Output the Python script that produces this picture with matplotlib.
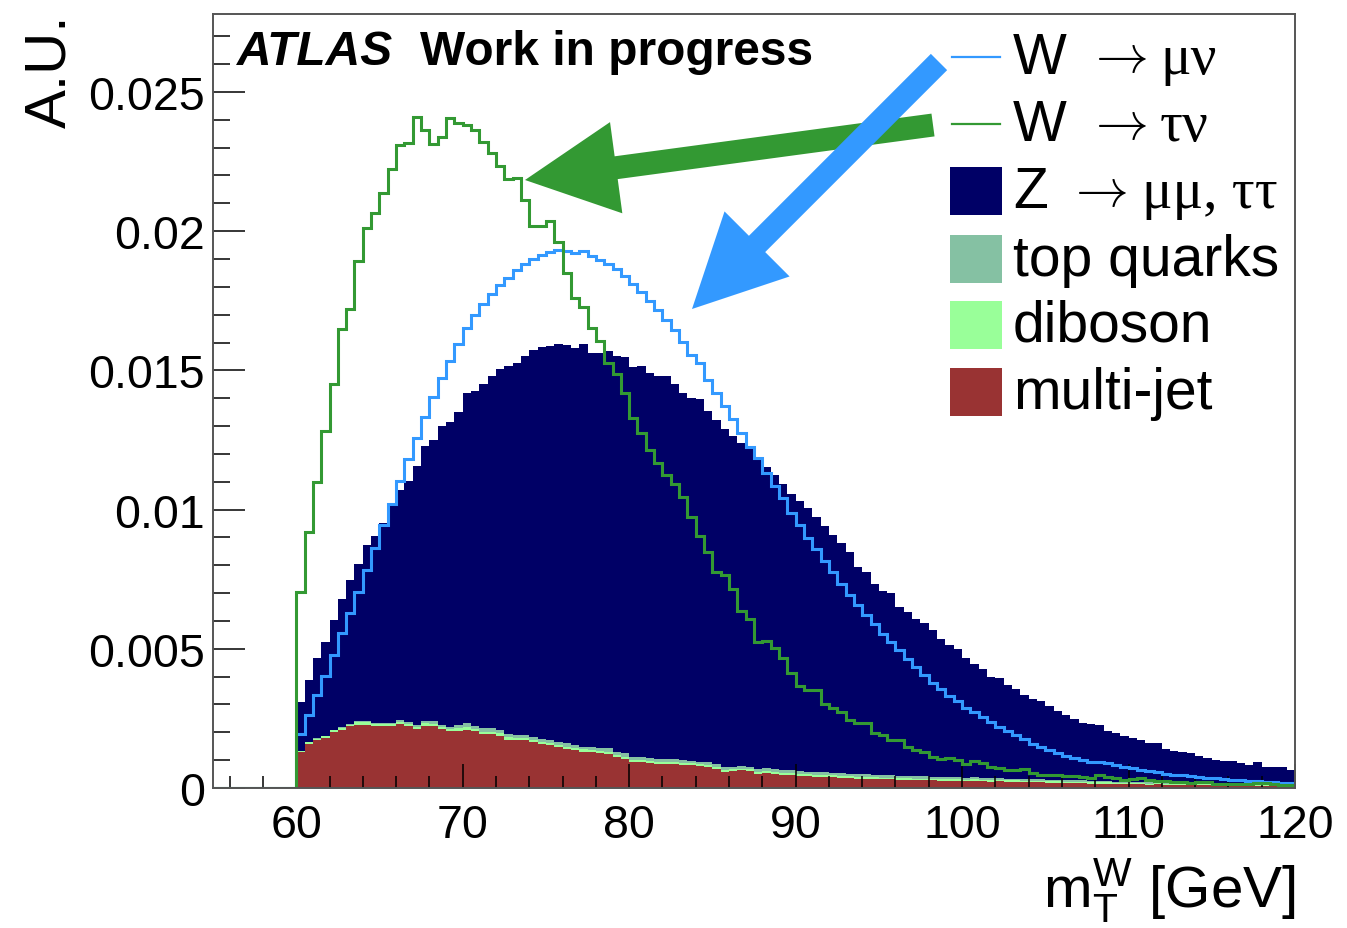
import numpy as np
import matplotlib
matplotlib.use("Agg")
import matplotlib.pyplot as plt
from matplotlib.ticker import MultipleLocator, FuncFormatter
from matplotlib.patches import Rectangle, FancyArrow
from matplotlib.lines import Line2D
from matplotlib.transforms import IdentityTransform

plt.rcParams['font.family'] = ['Liberation Sans', 'DejaVu Sans']
plt.rcParams['mathtext.fontset'] = 'custom'
plt.rcParams['mathtext.rm'] = 'Liberation Sans'
plt.rcParams['mathtext.it'] = 'Liberation Sans:italic'
plt.rcParams['mathtext.bf'] = 'Liberation Sans:bold'

# ---------------- data (bins of 0.5 GeV from 60 to 120) ----------------
bin_lo = 60.0
bin_hi = 120.0
bin_w = 0.5
x_min = 55.0
y_max = 0.0278

w_tau = [
    0.00705, 0.00918, 0.01100, 0.01283, 0.01452, 0.01648, 0.01719, 0.01893, 0.02011, 0.02065,
    0.02138, 0.02223, 0.02308, 0.02315, 0.02410, 0.02364, 0.02313, 0.02337, 0.02406, 0.02387,
    0.02380, 0.02364, 0.02321, 0.02282, 0.02234, 0.02188, 0.02190, 0.02111, 0.02020, 0.02018,
    0.02037, 0.01961, 0.01851, 0.01760, 0.01728, 0.01653, 0.01607, 0.01528, 0.01487, 0.01417,
    0.01330, 0.01274, 0.01215, 0.01169, 0.01125, 0.01091, 0.01045, 0.00972, 0.00904, 0.00849,
    0.00775, 0.00766, 0.00715, 0.00636, 0.00606, 0.00525, 0.00528, 0.00502, 0.00466, 0.00412,
    0.00368, 0.00353, 0.00353, 0.00303, 0.00287, 0.00273, 0.00243, 0.00234, 0.00234, 0.00199,
    0.00189, 0.00171, 0.00171, 0.00147, 0.00135, 0.00129, 0.00111, 0.00103, 0.00108, 0.00099,
    0.00085, 0.00096, 0.00090, 0.00075, 0.00072, 0.00063, 0.00063, 0.00069, 0.00055, 0.00048,
    0.00048, 0.00045, 0.00043, 0.00043, 0.00039, 0.00036, 0.00047, 0.00041, 0.00035, 0.00030,
    0.00032, 0.00036, 0.00030, 0.00024, 0.00025, 0.00023, 0.00020, 0.00018, 0.00020, 0.00020,
    0.00016, 0.00014, 0.00016, 0.00014, 0.00013, 0.00017, 0.00017, 0.00013, 0.00012, 0.00012,
]

w_mu = [
    0.00194, 0.00261, 0.00333, 0.00403, 0.00479, 0.00555, 0.00629, 0.00705, 0.00784, 0.00863,
    0.00945, 0.01019, 0.01103, 0.01182, 0.01258, 0.01332, 0.01403, 0.01471, 0.01534, 0.01594,
    0.01653, 0.01699, 0.01738, 0.01774, 0.01806, 0.01833, 0.01861, 0.01882, 0.01901, 0.01913,
    0.01924, 0.01932, 0.01927, 0.01923, 0.01927, 0.01910, 0.01897, 0.01881, 0.01864, 0.01838,
    0.01812, 0.01783, 0.01749, 0.01718, 0.01681, 0.01646, 0.01603, 0.01555, 0.01525, 0.01466,
    0.01420, 0.01372, 0.01326, 0.01276, 0.01224, 0.01185, 0.01133, 0.01084, 0.01041, 0.00986,
    0.00943, 0.00898, 0.00858, 0.00815, 0.00775, 0.00733, 0.00694, 0.00658, 0.00620, 0.00590,
    0.00554, 0.00524, 0.00494, 0.00464, 0.00434, 0.00407, 0.00378, 0.00354, 0.00332, 0.00311,
    0.00287, 0.00273, 0.00255, 0.00237, 0.00219, 0.00205, 0.00189, 0.00175, 0.00159, 0.00147,
    0.00135, 0.00126, 0.00115, 0.00108, 0.00099, 0.00094, 0.00092, 0.00088, 0.00083, 0.00077,
    0.00071, 0.00066, 0.00061, 0.00056, 0.00051, 0.00048, 0.00045, 0.00042, 0.00040, 0.00037,
    0.00035, 0.00032, 0.00030, 0.00028, 0.00026, 0.00024, 0.00023, 0.00022, 0.00019, 0.00018,
]

# top of the full background stack (Z on top of everything)
stack_total = [
    0.00308, 0.00389, 0.00466, 0.00523, 0.00602, 0.00679, 0.00747, 0.00803, 0.00874, 0.00905,
    0.00953, 0.01024, 0.01071, 0.01103, 0.01158, 0.01229, 0.01250, 0.01300, 0.01316, 0.01351,
    0.01419, 0.01427, 0.01450, 0.01479, 0.01506, 0.01514, 0.01525, 0.01553, 0.01572, 0.01583,
    0.01588, 0.01593, 0.01590, 0.01581, 0.01594, 0.01564, 0.01561, 0.01568, 0.01553, 0.01548,
    0.01511, 0.01517, 0.01489, 0.01479, 0.01481, 0.01451, 0.01420, 0.01400, 0.01397, 0.01355,
    0.01322, 0.01289, 0.01266, 0.01240, 0.01218, 0.01187, 0.01152, 0.01126, 0.01093, 0.01057,
    0.01031, 0.01005, 0.00972, 0.00940, 0.00907, 0.00879, 0.00847, 0.00793, 0.00777, 0.00733,
    0.00706, 0.00701, 0.00649, 0.00631, 0.00608, 0.00593, 0.00566, 0.00536, 0.00514, 0.00500,
    0.00466, 0.00446, 0.00426, 0.00398, 0.00395, 0.00371, 0.00354, 0.00335, 0.00321, 0.00311,
    0.00294, 0.00275, 0.00263, 0.00249, 0.00234, 0.00231, 0.00226, 0.00206, 0.00198, 0.00186,
    0.00180, 0.00174, 0.00160, 0.00160, 0.00140, 0.00134, 0.00130, 0.00124, 0.00116, 0.00108,
    0.00102, 0.00098, 0.00098, 0.00089, 0.00083, 0.00092, 0.00074, 0.00074, 0.00074, 0.00065,
]

multijet = [
    0.00129, 0.00159, 0.00171, 0.00179, 0.00200, 0.00210, 0.00221, 0.00228, 0.00228, 0.00222,
    0.00222, 0.00222, 0.00230, 0.00222, 0.00212, 0.00224, 0.00222, 0.00212, 0.00203, 0.00206,
    0.00210, 0.00203, 0.00194, 0.00194, 0.00188, 0.00174, 0.00173, 0.00171, 0.00165, 0.00159,
    0.00153, 0.00147, 0.00141, 0.00135, 0.00131, 0.00129, 0.00126, 0.00123, 0.00111, 0.00105,
    0.00095, 0.00095, 0.00091, 0.00087, 0.00085, 0.00087, 0.00081, 0.00081, 0.00078, 0.00075,
    0.00069, 0.00057, 0.00060, 0.00063, 0.00060, 0.00051, 0.00055, 0.00051, 0.00048, 0.00046,
    0.00044, 0.00042, 0.00041, 0.00040, 0.00039, 0.00037, 0.00036, 0.00033, 0.00034, 0.00032,
    0.00031, 0.00031, 0.00030, 0.00029, 0.00028, 0.00028, 0.00027, 0.00026, 0.00025, 0.00025,
    0.00024, 0.00025, 0.00024, 0.00023, 0.00024, 0.00022, 0.00022, 0.00021, 0.00021, 0.00020,
    0.00019, 0.00019, 0.00018, 0.00017, 0.00017, 0.00016, 0.00015, 0.00015, 0.00014, 0.00014,
    0.00013, 0.00013, 0.00012, 0.00013, 0.00012, 0.00012, 0.00011, 0.00011, 0.00010, 0.00010,
    0.00010, 0.00009, 0.00009, 0.00009, 0.00009, 0.00008, 0.00008, 0.00008, 0.00008, 0.00007,
]

diboson = [
    0.00004, 0.00005, 0.00006, 0.00006, 0.00007, 0.00007, 0.00007, 0.00008, 0.00008, 0.00008,
    0.00008, 0.00008, 0.00008, 0.00009, 0.00008, 0.00008, 0.00008, 0.00008, 0.00008, 0.00009,
    0.00009, 0.00008, 0.00008, 0.00008, 0.00008, 0.00008, 0.00008, 0.00008, 0.00008, 0.00008,
    0.00008, 0.00008, 0.00008, 0.00008, 0.00008, 0.00008, 0.00008, 0.00008, 0.00008, 0.00008,
    0.00007, 0.00007, 0.00007, 0.00007, 0.00007, 0.00007, 0.00007, 0.00007, 0.00007, 0.00007,
    0.00007, 0.00007, 0.00007, 0.00007, 0.00007, 0.00007, 0.00007, 0.00007, 0.00007, 0.00007,
    0.00007, 0.00007, 0.00007, 0.00007, 0.00007, 0.00007, 0.00007, 0.00007, 0.00006, 0.00006,
    0.00006, 0.00006, 0.00006, 0.00006, 0.00006, 0.00006, 0.00006, 0.00006, 0.00006, 0.00006,
    0.00006, 0.00006, 0.00006, 0.00005, 0.00005, 0.00005, 0.00005, 0.00005, 0.00005, 0.00005,
    0.00005, 0.00005, 0.00005, 0.00005, 0.00005, 0.00005, 0.00005, 0.00005, 0.00005, 0.00005,
    0.00005, 0.00005, 0.00004, 0.00004, 0.00004, 0.00004, 0.00004, 0.00004, 0.00004, 0.00004,
    0.00004, 0.00004, 0.00004, 0.00004, 0.00004, 0.00004, 0.00004, 0.00004, 0.00004, 0.00004,
]

top_quarks = [
    0.00000, 0.00001, 0.00001, 0.00002, 0.00002, 0.00002, 0.00003, 0.00003, 0.00003, 0.00004,
    0.00004, 0.00005, 0.00006, 0.00006, 0.00007, 0.00009, 0.00010, 0.00008, 0.00009, 0.00012,
    0.00013, 0.00011, 0.00012, 0.00012, 0.00012, 0.00011, 0.00010, 0.00010, 0.00010, 0.00010,
    0.00010, 0.00010, 0.00011, 0.00011, 0.00010, 0.00011, 0.00011, 0.00012, 0.00011, 0.00011,
    0.00011, 0.00011, 0.00011, 0.00011, 0.00011, 0.00010, 0.00011, 0.00010, 0.00010, 0.00010,
    0.00010, 0.00011, 0.00010, 0.00010, 0.00010, 0.00010, 0.00010, 0.00010, 0.00010, 0.00010,
    0.00010, 0.00010, 0.00010, 0.00010, 0.00009, 0.00009, 0.00009, 0.00010, 0.00009, 0.00009,
    0.00009, 0.00008, 0.00008, 0.00008, 0.00008, 0.00008, 0.00008, 0.00008, 0.00007, 0.00007,
    0.00007, 0.00007, 0.00007, 0.00007, 0.00006, 0.00006, 0.00006, 0.00006, 0.00006, 0.00006,
    0.00006, 0.00005, 0.00005, 0.00005, 0.00005, 0.00005, 0.00005, 0.00005, 0.00004, 0.00004,
    0.00004, 0.00004, 0.00004, 0.00004, 0.00004, 0.00004, 0.00003, 0.00003, 0.00003, 0.00003,
    0.00003, 0.00003, 0.00003, 0.00003, 0.00003, 0.00003, 0.00003, 0.00003, 0.00003, 0.00003,
]

x_ticks = [60, 70, 80, 90, 100, 110, 120]
y_ticks = [0, 0.005, 0.01, 0.015, 0.02, 0.025]

legend_labels = [("W", "\u03bc\u03bd"), ("W", "\u03c4\u03bd"),
                 ("Z", "\u03bc\u03bc, \u03c4\u03c4"),
                 ("top quarks", None), ("diboson", None), ("multi-jet", None)]

C_WMU = '#3399ff'
C_WTAU = '#339933'
C_Z = '#000066'
C_TOP = '#85c1a3'
C_DIB = '#99ff99'
C_MJ = '#993333'

# ---------------- figure ----------------
W, H = 1347, 929
fig = plt.figure(figsize=(W / 100, H / 100), dpi=100)
ax = fig.add_axes([213 / W, 1 - 789 / H, (1295 - 213) / W, (789 - 15) / H])

edges = np.arange(bin_lo, bin_hi + bin_w / 2, bin_w)
n_pad = int(round((bin_lo - x_min) / bin_w))
edges_full = np.arange(x_min, bin_hi + bin_w / 2, bin_w)

mj = np.array(multijet)
db = np.array(diboson)
tq = np.array(top_quarks)
tot = np.array(stack_total)
z = tot - (mj + db + tq)

base = np.zeros_like(mj)
for vals, col in [(mj, C_MJ), (db, C_DIB), (tq, C_TOP), (z, C_Z)]:
    ax.stairs(base + vals, edges, baseline=base.copy(), fill=True,
              facecolor=col, edgecolor='none', lw=0, zorder=1)
    base = base + vals

ax.stairs(np.concatenate([np.zeros(n_pad), w_mu]), edges_full, baseline=0,
          color=C_WMU, lw=2.2, zorder=3)
ax.stairs(np.concatenate([np.zeros(n_pad), w_tau]), edges_full, baseline=0,
          color=C_WTAU, lw=2.2, zorder=3)

ax.set_xlim(x_min, bin_hi)
ax.set_ylim(0, y_max)
ax.set_xticks(x_ticks)
ax.set_yticks(y_ticks)
ax.xaxis.set_minor_locator(MultipleLocator(2))
ax.yaxis.set_minor_locator(MultipleLocator(0.001))
ax.yaxis.set_major_formatter(FuncFormatter(lambda v, p: '0' if abs(v) < 1e-12 else f'{v:g}'))
ax.tick_params(which='both', direction='in', top=False, right=False,
               labelsize=33.5, width=1.1, color='black')
ax.tick_params(axis='x', which='major', length=17, pad=11)
ax.tick_params(axis='x', which='minor', length=9)
ax.tick_params(axis='y', which='major', length=23, pad=6)
ax.tick_params(axis='y', which='minor', length=12)
for s in ax.spines.values():
    s.set_color('#555555')
    s.set_linewidth(1.4)
    s.set_zorder(4)


def fx(px):
    return px / W


def fy(py):
    return 1 - py / H


# axis titles
fig.text(fx(50), fy(15), 'A.U.', rotation=90, ha='center', va='top', fontsize=42)
fig.text(fx(1296), fy(907), r'm$_{\mathrm{T}}^{\mathrm{W}}$ [GeV]', ha='right',
         va='baseline', fontsize=42)

# ATLAS label
fig.text(fx(237), fy(65), 'ATLAS', fontsize=34.5, fontweight='bold', fontstyle='italic',
         va='baseline', ha='left')
fig.text(fx(420), fy(65), 'Work in progress', fontsize=34.5, fontweight='bold',
         va='baseline', ha='left')

# legend (manual, ROOT-like)
row_base = [74, 141, 208, 276, 342, 409]
for i, (lab, greek) in enumerate(legend_labels):
    yb = row_base[i]
    yc = yb - 16
    if i < 2:
        col = C_WMU if i == 0 else C_WTAU
        fig.add_artist(Line2D([fx(952), fx(1000)], [fy(yc), fy(yc)], color=col, lw=1.6,
                              transform=fig.transFigure))
    else:
        col = [C_Z, C_TOP, C_DIB, C_MJ][i - 2]
        fig.add_artist(Rectangle((fx(950), fy(yc + 24)), (1002 - 950) / W, 48 / H,
                                 facecolor=col, edgecolor='none', transform=fig.transFigure))
    fig.text(fx(1013), fy(yb), lab, fontsize=41, va='baseline', ha='left')
    if greek is not None:
        ax_x = 1086 if lab == 'W' else 1066
        gx = 1160 if lab == 'W' else 1142
        fig.text(fx(ax_x), fy(yc), r'$\rightarrow$', fontsize=38, va='center', ha='left',
                 math_fontfamily='cm')
        fig.text(fx(gx), fy(yb), greek, fontsize=41, va='baseline', ha='left',
                 family=['Liberation Serif', 'DejaVu Serif'])

# arrows (drawn in pixel space so shapes are not distorted)


def arrow(tail, tip, color):
    x0, y0 = tail[0], H - tail[1]
    x1, y1 = tip[0], H - tip[1]
    a = FancyArrow(x0, y0, x1 - x0, y1 - y0, width=23, head_width=92, head_length=92,
                   length_includes_head=True, color=color, lw=0,
                   transform=IdentityTransform(), zorder=5)
    fig.add_artist(a)


arrow((933, 126), (525, 181), C_WTAU)
arrow((939, 63), (692, 310), C_WMU)

fig.savefig('out.png', dpi=100)
